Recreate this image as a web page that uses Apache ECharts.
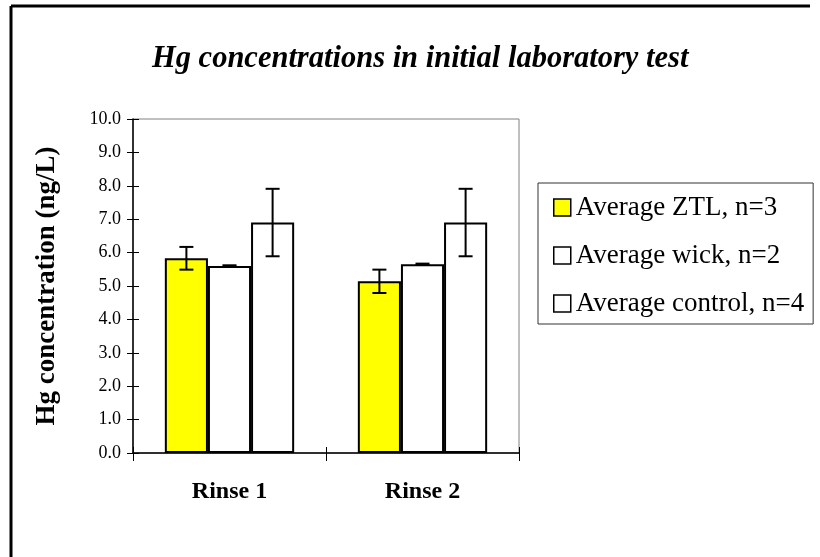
<!DOCTYPE html>
<html>
<head>
<meta charset="utf-8">
<script src="https://cdn.jsdelivr.net/npm/echarts@6/dist/echarts.min.js"></script>
<style>
  html, body { margin: 0; padding: 0; background: #fff; }
  #eChart { width: 820px; height: 557px; }
</style>
</head>
<body>
<div id="eChart"></div>
<script>
// data
var categories = ['Rinse 1', 'Rinse 2'];
var seriesNames = ['Average ZTL, n=3', 'Average wick, n=2', 'Average control, n=4'];
var ztlMean = [5.83, 5.14];
var ztlErr = [0.34, 0.35];
var wickMean = [5.60, 5.65];
var wickErr = [0.02, 0.02];
var controlMean = [6.90, 6.90];
var controlErr = [1.01, 1.01];
var yTicks = { min: 0, max: 10, interval: 1 };

var serifFont = '"Liberation Serif", "Times New Roman", serif';
var catGap = 0.33;

var means = [ztlMean, wickMean, controlMean];
var errs = [ztlErr, wickErr, controlErr];
var fills = ['#ffff00', '#ffffff', '#ffffff'];

// error bar items: [category index, mean, err, bar slot]
var errData = [];
for (var s = 0; s < means.length; s++) {
  for (var c = 0; c < categories.length; c++) {
    errData.push([c, means[s][c], errs[s][c], s]);
  }
}

function renderErr(params, api) {
  var cat = api.value(0);
  var mean = api.value(1);
  var err = api.value(2);
  var slot = api.value(3);
  var band = api.size([1, 0])[0];
  var barW = band * (1 - catGap) / 3;
  var center = api.coord([cat, mean]);
  var x = center[0] + (slot - 1) * barW;
  var top = api.coord([cat, mean + err])[1];
  var bot = api.coord([cat, mean - err])[1];
  var cap = 7;
  var st = { stroke: '#000', lineWidth: 2 };
  return {
    type: 'group',
    children: [
      { type: 'line', shape: { x1: x, y1: top, x2: x, y2: bot }, style: st },
      { type: 'line', shape: { x1: x - cap, y1: top, x2: x + cap, y2: top }, style: st },
      { type: 'line', shape: { x1: x - cap, y1: bot, x2: x + cap, y2: bot }, style: st }
    ]
  };
}

var chart = echarts.init(document.getElementById('eChart'));

var barSeries = seriesNames.map(function (name, i) {
  return {
    name: name,
    type: 'bar',
    data: means[i],
    barGap: '0%',
    barCategoryGap: (catGap * 100) + '%',
    itemStyle: { color: fills[i], borderColor: '#000', borderWidth: 2 },
    emphasis: { disabled: true }
  };
});

var option = {
  animation: false,
  backgroundColor: '#fff',
  title: {
    text: 'Hg concentrations in initial laboratory test',
    left: 152,
    top: 44,
    padding: 0,
    textStyle: {
      fontFamily: serifFont,
      fontStyle: 'italic',
      fontWeight: 'bold',
      fontSize: 30.5,
      color: '#000'
    }
  },
  legend: {
    data: seriesNames,
    orient: 'vertical',
    icon: 'rect',
    left: 538,
    top: 183,
    padding: [11, 9, 7, 15],
    itemGap: 21,
    itemWidth: 17,
    itemHeight: 17,
    borderColor: '#333',
    borderWidth: 1,
    selectedMode: false,
    textStyle: { fontFamily: serifFont, fontSize: 27, lineHeight: 27, color: '#000' },
    itemStyle: { borderColor: '#000', borderWidth: 1.5 }
  },
  graphic: [
    { type: 'line', shape: { x1: 11, y1: 6, x2: 810, y2: 6 }, style: { stroke: '#000', lineWidth: 3 } },
    { type: 'line', shape: { x1: 11, y1: 6, x2: 11, y2: 557 }, style: { stroke: '#000', lineWidth: 3 } }
  ],
  grid: {
    left: 133,
    right: 301,
    top: 119,
    bottom: 104,
    show: true,
    borderColor: '#808080',
    borderWidth: 1,
    containLabel: false,
    outerBoundsMode: 'none'
  },
  xAxis: [
    {
      type: 'category',
      data: categories,
      axisLine: { lineStyle: { color: '#000', width: 1.5 } },
      axisTick: { show: true, length: 8, lineStyle: { color: '#000', width: 1 } },
      axisLabel: {
        margin: 27,
        fontFamily: serifFont,
        fontWeight: 'bold',
        fontSize: 24,
        color: '#000'
      },
      splitLine: { show: false }
    },
    {
      type: 'category',
      data: categories,
      position: 'bottom',
      axisLine: { show: false },
      axisTick: { show: true, inside: true, length: 6, lineStyle: { color: '#000', width: 1 } },
      axisLabel: { show: false },
      splitLine: { show: false }
    }
  ],
  yAxis: [
    {
      type: 'value',
      min: yTicks.min,
      max: yTicks.max,
      interval: yTicks.interval,
      name: 'Hg concentration (ng/L)',
      nameLocation: 'middle',
      nameGap: 72,
      nameTextStyle: {
        fontFamily: serifFont,
        fontWeight: 'bold',
        fontSize: 27,
        color: '#000'
      },
      axisLine: { show: true, lineStyle: { color: '#000', width: 1.5 } },
      axisTick: { show: true, length: 6, lineStyle: { color: '#000', width: 1 } },
      axisLabel: {
        margin: 12,
        fontFamily: serifFont,
        fontSize: 18,
        color: '#000',
        formatter: function (v) { return v.toFixed(1); }
      },
      splitLine: { show: false }
    },
    {
      type: 'value',
      position: 'left',
      min: yTicks.min,
      max: yTicks.max,
      interval: yTicks.interval,
      axisLine: { show: false },
      axisTick: { show: true, inside: true, length: 6, lineStyle: { color: '#000', width: 1 } },
      axisLabel: { show: false },
      splitLine: { show: false }
    }
  ],
  series: barSeries.concat([
    {
      name: 'error',
      type: 'custom',
      renderItem: renderErr,
      data: errData,
      z: 10,
      encode: { x: 0, y: 1 }
    }
  ])
};

chart.setOption(option);
</script>
</body>
</html>
